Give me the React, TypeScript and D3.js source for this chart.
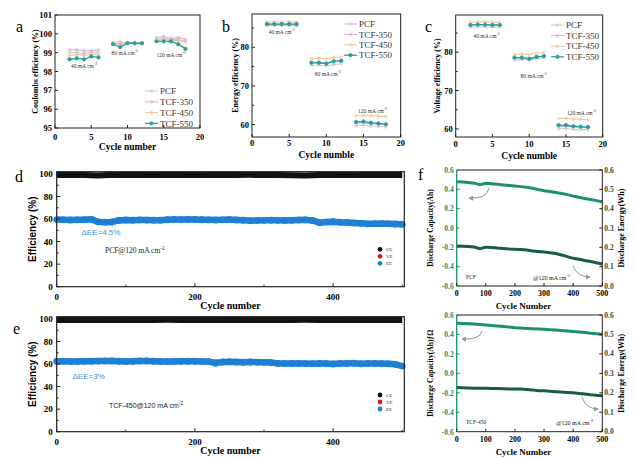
import React from 'react';
import * as d3 from 'd3';

// ---- data ----
const rateCycles = [2, 3, 4, 5, 6, 8, 9, 10, 11, 12, 14, 15, 16, 17, 18];
const rateGroups = [[0, 5], [5, 10], [10, 15]];
const seriesNames = ['PCF', 'TCF-350', 'TCF-450', 'TCF-550'];
const seriesColors = ['#c6c6c6', '#d9a6dc', '#f2c58e', '#2a9d9f'];

const ceRate = [
  [99.0, 99.0, 98.95, 99.0, 99.0, 99.5, 99.45, 99.5, 99.5, 99.45, 99.7, 99.75, 99.7, 99.7, 99.6],
  [99.15, 99.15, 99.1, 99.1, 99.15, 99.5, 99.5, 99.55, 99.5, 99.5, 99.8, 99.85, 99.75, 99.8, 99.7],
  [98.85, 98.9, 98.85, 98.9, 98.9, 99.55, 99.6, 99.5, 99.55, 99.5, 99.65, 99.7, 99.65, 99.65, 99.55],
  [98.65, 98.7, 98.65, 98.8, 98.75, 99.45, 99.3, 99.5, 99.5, 99.5, 99.6, 99.6, 99.6, 99.45, 99.2],
];
const eeRate = [
  [85.6, 85.7, 85.6, 85.6, 85.5, 75.3, 75.4, 75.2, 75.5, 75.8, 59.7, 59.8, 59.6, 59.5, 59.4],
  [85.9, 86.0, 85.9, 85.9, 85.8, 76.0, 76.1, 75.9, 76.4, 76.6, 60.3, 60.5, 60.2, 60.1, 60.0],
  [86.5, 86.6, 86.5, 86.6, 86.5, 77.0, 77.1, 77.0, 77.3, 77.5, 62.3, 62.4, 62.3, 62.2, 62.1],
  [86.0, 86.0, 86.0, 86.0, 86.0, 76.0, 76.0, 75.8, 76.4, 76.5, 60.7, 60.8, 60.5, 60.3, 60.1],
];
const veRate = [
  [86.5, 86.6, 86.6, 86.5, 86.5, 78.0, 78.1, 78.0, 78.3, 78.5, 60.0, 60.1, 59.9, 59.8, 59.8],
  [87.0, 87.1, 87.1, 87.0, 87.0, 78.5, 78.5, 78.3, 78.7, 78.9, 60.6, 60.7, 60.5, 60.4, 60.3],
  [87.8, 87.9, 87.9, 87.8, 87.8, 79.4, 79.5, 79.4, 79.7, 79.9, 62.7, 62.8, 62.6, 62.5, 62.4],
  [87.1, 87.2, 87.2, 87.1, 87.1, 78.6, 78.6, 78.3, 78.8, 79.0, 61.0, 61.0, 60.7, 60.6, 60.5],
];

// long cycling, sampled every 10 cycles (EE) / 20 cycles (CE, VE)
const eeCycles = d3.range(0, 501, 10);
const sparseCycles = d3.range(0, 501, 20);

const pcfEE = [59.5, 59.3, 59.2, 59.3, 59.4, 59.8, 57.5, 57.2, 57.4, 58.8, 59.2, 59.0, 59.2, 59.1, 59.0, 59.0, 59.4,
  59.7, 59.5, 59.6, 59.6, 59.4, 59.3, 59.2, 59.3, 59.5, 59.2, 59.0, 58.6, 58.8, 58.9, 59.0, 58.9, 58.8, 58.9, 59.1,
  59.3, 58.8, 56.8, 57.3, 57.6, 57.2, 57.0, 56.6, 56.2, 55.8, 55.9, 56.0, 55.8, 55.6, 55.3];
const pcfCE = [99.0, 99.2, 99.1, 98.6, 99.2, 99.1, 99.0, 99.2, 99.1, 99.0, 99.2, 99.1, 99.0, 99.1, 99.2, 99.1,
  99.0, 98.8, 98.7, 99.1, 99.0, 99.2, 99.1, 99.0, 99.1, 99.0];
const pcfVE = [59.9, 59.6, 59.8, 57.9, 57.8, 59.6, 59.6, 59.4, 59.8, 59.9, 60.0, 59.7, 59.7, 59.6, 59.0, 59.3,
  59.3, 59.3, 59.7, 57.2, 58.0, 57.4, 56.6, 56.3, 56.2, 55.7];

const tcfEE = [62.5, 62.4, 62.3, 62.2, 62.4, 62.5, 62.6, 62.8, 62.7, 62.5, 62.3, 62.5, 62.7, 62.8, 62.5, 62.3, 62.2,
  62.3, 62.4, 62.5, 62.4, 62.3, 62.2, 60.8, 61.8, 62.0, 61.8, 61.6, 61.8, 61.7, 61.5, 61.3, 60.6, 60.4, 60.5, 60.6,
  60.4, 60.3, 60.5, 60.4, 60.1, 60.4, 60.6, 60.8, 60.2, 60.6, 60.5, 60.4, 60.2, 59.8, 58.2];
const tcfCE = [99.1, 99.2, 99.0, 99.2, 99.1, 99.2, 99.0, 99.1, 99.2, 99.1, 99.0, 99.2, 99.1, 99.0, 99.2, 99.1,
  99.0, 99.1, 99.2, 99.1, 99.0, 99.2, 99.1, 99.3, 99.1, 99.0];
const tcfVE = [62.9, 62.7, 62.8, 63.0, 63.1, 62.7, 63.1, 62.9, 62.6, 62.8, 62.8, 62.6, 62.2, 62.2, 62.2, 61.9,
  61.0, 60.9, 60.8, 60.9, 60.5, 61.0, 60.6, 60.9, 60.6, 58.6];

const fCycles = d3.range(0, 501, 20);
const pcfCapacity = [0.479, 0.476, 0.471, 0.464, 0.448, 0.462, 0.457, 0.452, 0.446, 0.44, 0.434, 0.428, 0.421,
  0.412, 0.398, 0.386, 0.378, 0.368, 0.357, 0.345, 0.33, 0.318, 0.305, 0.294, 0.283, 0.272];
const pcfEnergy = [0.207, 0.206, 0.204, 0.202, 0.193, 0.201, 0.199, 0.196, 0.194, 0.191, 0.19, 0.189, 0.186,
  0.181, 0.179, 0.176, 0.172, 0.168, 0.16, 0.152, 0.143, 0.138, 0.132, 0.127, 0.12, 0.114];
const tcfCapacity = [0.515, 0.513, 0.51, 0.507, 0.503, 0.497, 0.492, 0.487, 0.482, 0.476, 0.47, 0.466, 0.462,
  0.459, 0.456, 0.453, 0.449, 0.445, 0.44, 0.435, 0.43, 0.425, 0.419, 0.412, 0.406, 0.4];
const tcfEnergy = [0.227, 0.226, 0.225, 0.224, 0.223, 0.223, 0.222, 0.222, 0.221, 0.22, 0.22, 0.219, 0.217,
  0.215, 0.211, 0.21, 0.208, 0.206, 0.204, 0.202, 0.2, 0.197, 0.194, 0.19, 0.187, 0.185];

const serif = "'Liberation Serif', 'Times New Roman', serif";
const sans = "'Liberation Sans', Arial, sans-serif";
const eeColor = '#1f7fd4';
const veColor = '#d22030';
const capColor = '#1c8f6e';
const energyColor = '#175b4b';

const Cm2 = ({ pre }: { pre: string }) => (
  <>
    {pre}cm<tspan dy={-3} fontSize="0.7em">-2</tspan>
  </>
);

// ---- small rate panels (a, b, c) ----
interface RateProps {
  l: number; r: number; t: number; b: number;
  yDomain: [number, number];
  yTicks: number[];
  yMinor?: number[];
  values: number[][];
  letter: [string, number, number];
  yTitle: [string, number];
  xTitle: [string, number];
  xTickBase: number;
  rateLabels: [string, number, number][];
  legend: [number, number, number];
}

const RatePanel: React.FC<RateProps> = (p) => {
  const x = d3.scaleLinear().domain([0, 20]).range([p.l, p.r]);
  const y = d3.scaleLinear().domain(p.yDomain).range([p.b, p.t]);
  const line = d3.line<number>().x((_, i) => x(rateCycles[i])).y((d) => y(d));
  const cy = (p.t + p.b) / 2;
  return (
    <g>
      <text x={p.letter[1]} y={p.letter[2]} fontFamily={serif} fontSize={16}>{p.letter[0]}</text>
      {p.values.map((vals, s) => (
        <g key={s}>
          {rateGroups.map(([a, z], gi) => (
            <path key={gi} d={line.x((_, i) => x(rateCycles[a + i]))(vals.slice(a, z)) || ''}
              fill="none" stroke={seriesColors[s]} strokeWidth={s === 3 ? 1.3 : 1} />
          ))}
          {vals.map((v, i) => (
            <circle key={i} cx={x(rateCycles[i])} cy={y(v)} r={s === 3 ? 1.7 : 1.3}
              fill={s === 3 ? seriesColors[s] : 'none'} stroke={seriesColors[s]} strokeWidth={0.8} />
          ))}
        </g>
      ))}
      {p.rateLabels.map(([t, lx, ly], i) => (
        <text key={i} x={x(lx)} y={y(ly)} fontFamily={serif} fontSize={5.5} textAnchor="middle" fill="#333">
          <Cm2 pre={t + ' mA '} />
        </text>
      ))}
      <rect x={p.l} y={p.t} width={p.r - p.l} height={p.b - p.t} fill="none" stroke="#222" strokeWidth={1} />
      {p.yTicks.map((v) => (
        <g key={v}>
          <line x1={p.l} x2={p.l + 3} y1={y(v)} y2={y(v)} stroke="#222" />
          <text x={p.l - 3} y={y(v) + 3} textAnchor="end" fontFamily={serif} fontWeight="bold" fontSize={8.5}>{v}</text>
        </g>
      ))}
      {(p.yMinor || []).map((v) => (
        <line key={v} x1={p.l} x2={p.l + 2} y1={y(v)} y2={y(v)} stroke="#222" />
      ))}
      {[0, 5, 10, 15, 20].map((v) => (
        <g key={v}>
          <line x1={x(v)} x2={x(v)} y1={p.b} y2={p.b - 3} stroke="#222" />
          <text x={x(v)} y={p.xTickBase} textAnchor="middle" fontFamily={serif} fontWeight="bold" fontSize={8.5}>{v}</text>
        </g>
      ))}
      <text transform={`translate(${p.yTitle[1]},${cy}) rotate(-90)`} textAnchor="middle" fontFamily={serif}
        fontWeight="bold" fontSize={8}>{p.yTitle[0]}</text>
      <text x={(p.l + p.r) / 2} y={p.xTitle[1]} textAnchor="middle" fontFamily={serif} fontWeight="bold"
        fontSize={9.5}>{p.xTitle[0]}</text>
      {seriesNames.map((n, s) => {
        const [lx, ly, dy] = p.legend;
        const yy = ly + s * dy;
        return (
          <g key={n}>
            <line x1={lx} x2={lx + 13} y1={yy} y2={yy} stroke={seriesColors[s]} strokeWidth={s === 3 ? 1.3 : 1} />
            <circle cx={lx + 6.5} cy={yy} r={s === 3 ? 1.7 : 1.3} fill={s === 3 ? seriesColors[s] : 'none'}
              stroke={seriesColors[s]} strokeWidth={0.8} />
            <text x={lx + 15} y={yy + 3.2} fontFamily={serif} fontSize={9} fill="#333">{n}</text>
          </g>
        );
      })}
    </g>
  );
};

// ---- long cycling panels (d, e) ----
interface LongProps {
  t: number; b: number;
  ce: number[]; ve: number[]; ee: number[];
  letter: [string, number, number];
  delta: [string, number, number];
  cond: [string, number, number, string, number];
  legendY: number;
  xTickBase: number;
  xTitleBase: number;
}

const LongPanel: React.FC<LongProps> = (p) => {
  const l = 56.7, r = 404.3;
  const x = d3.scaleLinear().domain([0, 503]).range([l, r]);
  const y = d3.scaleLinear().domain([0, 102]).range([p.b, p.t]);
  const sparse = d3.line<number>().x((_, i) => x(sparseCycles[i])).y((d) => y(d));
  const dense = d3.line<number>().x((_, i) => x(eeCycles[i])).y((d) => y(d));
  const legend: [string, string][] = [['CE', '#111'], ['VE', veColor], ['EE', eeColor]];
  return (
    <g>
      <text x={p.letter[1]} y={p.letter[2]} fontFamily={serif} fontSize={16}>{p.letter[0]}</text>
      <path d={sparse(p.ce) || ''} fill="none" stroke="#111" strokeWidth={6} strokeLinejoin="round" />
      <path d={sparse(p.ve) || ''} fill="none" stroke={veColor} strokeWidth={3.5} strokeLinejoin="round" />
      <path d={dense(p.ee) || ''} fill="none" stroke={eeColor} strokeWidth={6.5} strokeLinejoin="round" />
      {p.ee.map((v, i) => (
        <circle key={i} cx={x(eeCycles[i])} cy={y(v)} r={3.4} fill={eeColor} />
      ))}
      <rect x={l} y={p.t} width={r - l} height={p.b - p.t} fill="none" stroke="#222" strokeWidth={1.2} />
      {d3.range(0, 101, 10).map((v) => (
        <g key={v}>
          <line x1={l} x2={l + (v % 20 === 0 ? 3.5 : 2)} y1={y(v)} y2={y(v)} stroke="#222" />
          {v % 20 === 0 && (
            <text x={l - 4} y={y(v) + 3} textAnchor="end" fontFamily={serif} fontWeight="bold" fontSize={9}>{v}</text>
          )}
        </g>
      ))}
      {d3.range(0, 501, 100).map((v) => (
        <g key={v}>
          <line x1={x(v)} x2={x(v)} y1={p.b} y2={p.b - (v % 200 === 0 ? 3.5 : 2)} stroke="#222" />
          {v % 200 === 0 && (
            <text x={x(v)} y={p.xTickBase} textAnchor="middle" fontFamily={serif} fontWeight="bold" fontSize={9}>{v}</text>
          )}
        </g>
      ))}
      <text transform={`translate(36,${(p.t + p.b) / 2}) rotate(-90)`} textAnchor="middle" fontFamily={sans}
        fontWeight="bold" fontSize={10}>Efficiency (%)</text>
      <text x={(l + r) / 2} y={p.xTitleBase} textAnchor="middle" fontFamily={serif} fontWeight="bold"
        fontSize={10}>Cycle number</text>
      <text x={p.delta[1]} y={p.delta[2]} fontFamily={sans} fontSize={8} fill="#3d8fd6">{p.delta[0]}</text>
      <text x={p.cond[1]} y={p.cond[2]} fontFamily={p.cond[3]} fontSize={p.cond[4]} fill="#222">
        <Cm2 pre={p.cond[0]} />
      </text>
      {legend.map(([n, c], i) => (
        <g key={n}>
          <circle cx={380} cy={p.legendY + i * 7} r={2.4} fill={c} />
          <text x={386} y={p.legendY + i * 7 + 2} fontFamily={serif} fontSize={5} fill="#333">{n}</text>
        </g>
      ))}
    </g>
  );
};

// ---- capacity/energy panels (f) ----
interface CapProps {
  t: number; b: number;
  cap: number[]; energy: number[];
  name: [string, number, number];
  rate: [number, number];
  arrows: [number, number, number, number, number, number][];
  xTickBase: number;
  xTitleBase: number;
  leftTitle: string;
}

const CapPanel: React.FC<CapProps> = (p) => {
  const l = 456.7, r = 602.3;
  const x = d3.scaleLinear().domain([0, 500]).range([l, r]);
  const yL = d3.scaleLinear().domain([-0.6, 0.6]).range([p.b, p.t]);
  const yR = d3.scaleLinear().domain([0, 0.6]).range([p.b, p.t]);
  const capLine = d3.line<number>().x((_, i) => x(fCycles[i])).y((d) => yL(d));
  const enLine = d3.line<number>().x((_, i) => x(fCycles[i])).y((d) => yR(d));
  const cy = (p.t + p.b) / 2;
  return (
    <g>
      <path d={capLine(p.cap) || ''} fill="none" stroke={capColor} strokeWidth={3} />
      <path d={enLine(p.energy) || ''} fill="none" stroke={energyColor} strokeWidth={3} />
      <line x1={l} x2={r} y1={p.t} y2={p.t} stroke="#222" />
      <line x1={l} x2={r} y1={p.b} y2={p.b} stroke="#222" />
      <line x1={l} x2={l} y1={p.t} y2={p.b} stroke={capColor} strokeWidth={1.3} />
      <line x1={r} x2={r} y1={p.t} y2={p.b} stroke="#222" />
      {d3.range(-0.6, 0.61, 0.2).map((v) => (
        <g key={v.toFixed(1)}>
          <line x1={l} x2={l + 3} y1={yL(v)} y2={yL(v)} stroke={capColor} />
          <text x={l - 3} y={yL(v) + 2.8} textAnchor="end" fontFamily={serif} fontWeight="bold" fontSize={7.5}
            fill={capColor}>{Math.abs(v) < 1e-9 ? '0.0' : v.toFixed(1)}</text>
        </g>
      ))}
      {d3.range(0, 0.61, 0.1).map((v) => (
        <g key={v.toFixed(1)}>
          <line x1={r} x2={r - 3} y1={yR(v)} y2={yR(v)} stroke="#222" />
          <text x={r + 2} y={yR(v) + 2.5} fontFamily={serif} fontWeight="bold" fontSize={7.5} fill="#2d4d45">
            {v.toFixed(1)}</text>
        </g>
      ))}
      {d3.range(0, 501, 100).map((v) => (
        <g key={v}>
          <line x1={x(v)} x2={x(v)} y1={p.b} y2={p.b - 3} stroke="#222" />
          <text x={x(v)} y={p.xTickBase} textAnchor="middle" fontFamily={serif} fontWeight="bold" fontSize={8}>{v}</text>
        </g>
      ))}
      <text transform={`translate(433,${cy}) rotate(-90)`} textAnchor="middle" fontFamily={serif}
        fontWeight="bold" fontSize={7.5}>{p.leftTitle}</text>
      <text transform={`translate(624,${cy}) rotate(-90)`} textAnchor="middle" fontFamily={serif}
        fontWeight="bold" fontSize={8}>Discharge Energy(Wh)</text>
      <text x={(l + r) / 2 - 6} y={p.xTitleBase} textAnchor="middle" fontFamily={serif} fontWeight="bold"
        fontSize={9}>Cycle Number</text>
      {p.arrows.map(([x1, y1, cx, cy2, x2, y2], i) => (
        <path key={i} d={`M${x1},${y1} Q${cx},${cy2} ${x2},${y2}`} fill="none" stroke="#8a9a96" strokeWidth={1}
          markerEnd="url(#arr)" />
      ))}
      <text x={p.name[1]} y={p.name[2]} fontFamily={serif} fontSize={5.5} fill="#222">{p.name[0]}</text>
      <text x={p.rate[0]} y={p.rate[1]} fontFamily={serif} fontSize={6} fill="#222"><Cm2 pre="@120 mA " /></text>
    </g>
  );
};

export default function App() {
  return (
    <svg width={637} height={458} viewBox="0 0 637 458"
      style={{ position: 'absolute', left: 0, top: 0, background: '#fff' }}>
      <defs>
        <marker id="arr" viewBox="0 0 6 6" refX={5} refY={3} markerWidth={5} markerHeight={5} orient="auto">
          <path d="M0,0 L6,3 L0,6 z" fill="#8a9a96" />
        </marker>
      </defs>
      <rect width={637} height={458} fill="#fff" />
      <RatePanel l={55} r={200} t={15} b={128} yDomain={[95, 101]} yTicks={[95, 96, 97, 98, 99, 100, 101]}
        values={ceRate} letter={['a', 16, 32]} yTitle={['Coulombs efficiency (%)', 38]}
        xTitle={['Cycle number', 150]} xTickBase={140}
        rateLabels={[['40', 4, 98.2], ['80', 9.6, 98.85], ['120', 16, 98.75]]} legend={[145, 91, 10.8]} />
      <RatePanel l={252} r={400.7} t={14} b={137} yDomain={[56.8, 88.6]} yTicks={[60, 70, 80]} yMinor={[65, 75, 85]}
        values={eeRate} letter={['b', 222, 32]} yTitle={['Energy efficiency (%)', 238]}
        xTitle={['Cycle numble', 158]} xTickBase={146}
        rateLabels={[['40', 4, 83.4], ['80', 10.2, 72.5], ['120', 16.2, 62.9]]} legend={[344, 24, 10.4]} />
      <RatePanel l={455.7} r={602.7} t={15} b={137} yDomain={[57.9, 89.7]} yTicks={[60, 70, 80]} yMinor={[65, 75, 85]}
        values={veRate} letter={['c', 425, 32]} yTitle={['Voltage efficiency (%)', 440]}
        xTitle={['Cycle numble', 159]} xTickBase={147}
        rateLabels={[['40', 4.2, 83.7], ['80', 10.6, 73.3], ['120', 17.1, 63.6]]} legend={[551, 25, 10.6]} />
      <LongPanel t={171.7} b={286.7} ce={pcfCE} ve={pcfVE} ee={pcfEE} letter={['d', 15, 182]}
        delta={['\u0394EE=4.5%', 81.5, 234.5]} cond={['PCF@120 mA ', 105, 253, serif, 7.5]}
        legendY={249.3} xTickBase={300} xTitleBase={309} />
      <LongPanel t={316.7} b={431.7} ce={tcfCE} ve={tcfVE} ee={tcfEE} letter={['e', 13, 334]}
        delta={['\u0394EE=3%', 72.5, 378.5]} cond={['TCF-450@120 mA ', 109, 408, sans, 7]}
        legendY={395} xTickBase={445} xTitleBase={454} />
      <text x={418} y={180} fontFamily={serif} fontSize={16}>f</text>
      <CapPanel t={170} b={286} cap={pcfCapacity} energy={pcfEnergy} name={['PCF', 466, 279]} rate={[533, 280]}
        arrows={[[489, 188, 487, 199, 469, 198], [573, 266, 577, 277, 590, 277]]}
        xTickBase={296} xTitleBase={309} leftTitle="Discharge Capacity(Ah)" />
      <CapPanel t={315} b={431.7} cap={tcfCapacity} energy={tcfEnergy} name={['TCF-450', 466, 424]} rate={[556, 425]}
        arrows={[[482, 331, 480, 340, 462, 339], [582, 397, 586, 409, 598, 409]]}
        xTickBase={442} xTitleBase={455} leftTitle={'Discharge Capacity(Ah)\u0192\u03A9'} />
    </svg>
  );
}
